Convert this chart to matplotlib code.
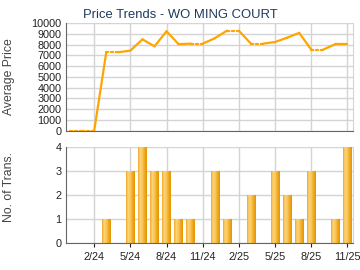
import matplotlib
matplotlib.use("Agg")
import matplotlib.pyplot as plt
import numpy as np
from matplotlib.colors import LinearSegmentedColormap

plt.rcParams["font.family"] = ["Liberation Sans", "DejaVu Sans"]

# monthly data, Dec 2023 .. Nov 2025
months = ["12/23", "1/24", "2/24", "3/24", "4/24", "5/24", "6/24", "7/24",
          "8/24", "9/24", "10/24", "11/24", "12/24", "1/25", "2/25", "3/25",
          "4/25", "5/25", "6/25", "7/25", "8/25", "9/25", "10/25", "11/25"]
avg_price = [0, 0, 0, 7300, 7300, 7450, 8500, 7850, 9250, 8050, 8100, 8100,
             8600, 9300, 9300, 8100, 8100, 8250, 8650, 9100, 7550, 7550,
             8050, 8050]
n_trans = [0, 0, 0, 1, 0, 3, 4, 3, 3, 1, 1, 0, 3, 1, 0, 2, 0, 3, 2, 1, 3,
           0, 1, 4]
tick_labels = ["2/24", "5/24", "8/24", "11/24", "2/25", "5/25", "8/25", "11/25"]

ORANGE = "#FFA500"
NAVY = "#1F3A5F"
GRID = "#D4D4D4"
SPINE = "#666666"
FS = 7.8

x = np.arange(len(months))
tick_pos = [months.index(m) for m in tick_labels]

fig = plt.figure(figsize=(3.6, 2.7), dpi=100)
ax1 = fig.add_axes([0.183, 0.516, 0.797, 0.398])
ax2 = fig.add_axes([0.183, 0.100, 0.797, 0.356])

for ax in (ax1, ax2):
    ax.set_xlim(-0.35, 23.45)
    ax.set_xticks(tick_pos)
    ax.grid(True, color=GRID, lw=1.0)
    ax.set_axisbelow(True)
    ax.spines["top"].set_visible(False)
    ax.spines["right"].set_color(GRID)
    for s in ("left", "bottom"):
        ax.spines[s].set_color(SPINE)
    ax.tick_params(labelsize=FS, colors="#222222", length=3, width=0.8,
                   pad=3.5)
    ax.tick_params(axis="y", length=0, pad=3)

# price line: dotted where the month has no transactions (value carried)
for i in range(1, len(x)):
    dotted = n_trans[i] == 0
    ax1.plot(x[i - 1:i + 1], avg_price[i - 1:i + 1], color=ORANGE,
             lw=1.6, ls=(0, (1, 1.2)) if dotted else "-",
             solid_capstyle="round", dash_capstyle="round", zorder=3)
ax1.set_ylim(0, 10000)
ax1.set_yticks(range(0, 10001, 1000))
ax1.set_xticklabels([])
ax1.tick_params(axis="x", length=0)
ax1.set_ylabel("Average Price", fontsize=8.8, color="#444444")
ax1.yaxis.set_label_coords(-0.178, 0.5)
fig.text(0.5, 0.945, "Price Trends - WO MING COURT", fontsize=9.4,
         color=NAVY, ha="center", va="center")

# transactions bars with a cylinder-like gradient
grad = LinearSegmentedColormap.from_list(
    "g", ["#F0AA28", "#FCD57C", "#F9C65A", "#F0A91E", "#E39400"])
bars = ax2.bar(x, n_trans, width=0.7, color="none", zorder=2)
g = np.linspace(0, 1, 64).reshape(1, -1)
for b in bars:
    if b.get_height() <= 0:
        continue
    x0, y0 = b.get_x(), b.get_y()
    im = ax2.imshow(g, cmap=grad, aspect="auto", zorder=2.5,
                    extent=[x0, x0 + b.get_width(), y0, y0 + b.get_height()])
    im.set_clip_path(b)
ax2.set_xlim(-0.35, 23.45)
ax2.set_ylim(0, 4)
ax2.set_yticks(range(0, 5))
ax2.set_xticklabels(tick_labels)
ax2.set_ylabel("No. of Trans.", fontsize=8.8, color="#444444")
ax2.yaxis.set_label_coords(-0.178, 0.58)

fig.savefig("out.png", dpi=100)
